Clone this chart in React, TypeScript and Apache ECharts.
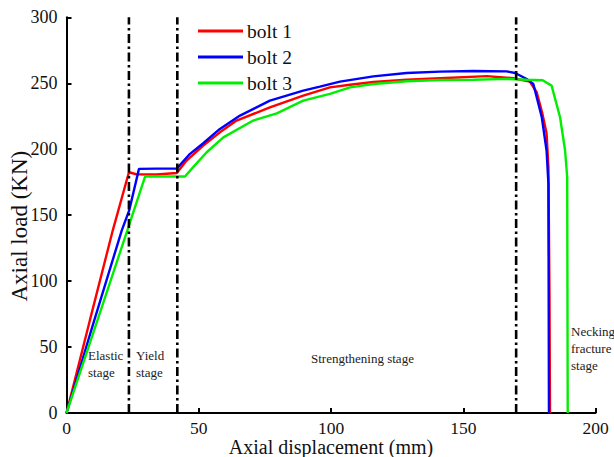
import React, { useEffect, useRef } from "react";
import * as echarts from "echarts";

const seriesNames = ["bolt 1", "bolt 2", "bolt 3"];
const seriesColors = ["#ff0000", "#0000ff", "#00ee00"];

const bolt1Disp = [0, 8.8, 17.5, 23.6, 26.4, 34, 41.7, 45.4, 51.7, 58, 64.3, 76.9, 89.5, 99.6, 107.2, 116, 128.6, 141.2, 158.9, 168.9, 175.2, 177.8, 179.8, 181.5, 182.2, 182.6, 182.8];
const bolt1Load = [0, 70, 138.5, 182.5, 181, 180.8, 182, 191.4, 202.8, 212.8, 221.7, 231.7, 240.6, 246.9, 248.9, 250.9, 252.7, 253.8, 255.4, 253.8, 251.2, 243, 228, 212, 186.4, 90, 0];

const bolt2Disp = [0, 10, 20.9, 23.7, 27.4, 34, 41.7, 46.7, 51.7, 58, 65.6, 76.9, 89.5, 95.8, 103.4, 116, 128.6, 141.2, 153.8, 166.4, 169.6, 174, 176.5, 179.7, 181.5, 182.2, 182.4];
const bolt2Load = [0, 67, 138.5, 153.6, 185.1, 185.3, 185.3, 196.5, 204.5, 215.4, 225.5, 236.8, 244.4, 247.4, 251.2, 255.2, 257.8, 258.8, 259.3, 259, 257.8, 253.2, 249.4, 224.2, 199, 173.8, 0];

const bolt3Disp = [0, 11.5, 23, 29.7, 37, 44.8, 47.9, 53, 59.3, 70.6, 79.5, 89.5, 99.6, 107.2, 116, 128.6, 141.2, 153.8, 166.4, 174, 180, 183.4, 186.6, 188.5, 189.3, 189.5];
const bolt3Load = [0, 69, 138.5, 179.3, 179.3, 179.3, 186.4, 197.7, 209, 221.7, 227.2, 236.8, 241.9, 246.9, 249.4, 251.5, 252.5, 252.7, 253.3, 252.7, 252.3, 248.2, 224.2, 199, 178.8, 0];

const stageBounds = [23.6, 41.9, 170];
const xTicks = { min: 0, max: 200, interval: 50 };
const yTicks = { min: 0, max: 300, interval: 50 };

const stageLabels = [
  { text: "Elastic\nstage", x: 88, y: 346.5 },
  { text: "Yield\nstage", x: 136, y: 346.5 },
  { text: "Strengthening stage", x: 311, y: 349.5 },
  { text: "Necking\nfracture\nstage", x: 571, y: 322.5 },
];

const FONT = "Liberation Serif";

const zip = (xs: number[], ys: number[]) => xs.map((x, i) => [x, ys[i]]);

export default function App() {
  const ref = useRef<HTMLDivElement>(null);
  useEffect(() => {
    if (!ref.current) return;
    const chart = echarts.init(ref.current, null, { renderer: "svg" });
    const curves = [zip(bolt1Disp, bolt1Load), zip(bolt2Disp, bolt2Load), zip(bolt3Disp, bolt3Load)];
    const series: any[] = curves.map((d, i) => ({
      name: seriesNames[i],
      type: "line",
      data: d,
      symbol: "none",
      showSymbol: false,
      color: seriesColors[i],
      lineStyle: { color: seriesColors[i], width: 2.4 },
      itemStyle: { color: seriesColors[i] },
      z: 3,
    }));
    stageBounds.forEach((b, i) => {
      series.push({
        name: "stage" + i,
        type: "line",
        data: [
          [b, yTicks.min],
          [b, yTicks.max],
        ],
        symbol: "none",
        showSymbol: false,
        lineStyle: { color: "#000", width: 2.6, type: [9, 3.5, 2.5, 3.5] },
        z: 4,
        silent: true,
      });
    });
    chart.setOption({
      animation: false,
      backgroundColor: "#fff",
      grid: { left: 66.5, right: 18.5, top: 17.3, bottom: 44, outerBoundsMode: "none" },
      legend: {
        data: seriesNames,
        orient: "vertical",
        left: 198,
        top: 21,
        padding: 0,
        icon: "rect",
        itemWidth: 45,
        itemHeight: 3,
        itemGap: 6,
        textStyle: { fontFamily: FONT, fontSize: 19.5, color: "#111", padding: [0, 0, 0, -1] },
      },
      xAxis: {
        type: "value",
        min: xTicks.min,
        max: xTicks.max,
        interval: xTicks.interval,
        name: "Axial displacement (mm)",
        nameLocation: "middle",
        nameGap: 24,
        nameMoveOverlap: false,
        nameTextStyle: { fontFamily: FONT, fontSize: 20, lineHeight: 20, color: "#111" },
        axisLine: { show: true, lineStyle: { color: "#000", width: 2 } },
        axisTick: { show: true, inside: true, length: 5, lineStyle: { color: "#000", width: 2 } },
        axisLabel: { fontFamily: FONT, fontSize: 17.5, lineHeight: 17, color: "#111", margin: 6 },
        splitLine: { show: false },
      },
      yAxis: {
        type: "value",
        min: yTicks.min,
        max: yTicks.max,
        interval: yTicks.interval,
        name: "Axial load (KN)",
        nameLocation: "middle",
        nameGap: 36,
        nameMoveOverlap: false,
        nameTextStyle: { fontFamily: FONT, fontSize: 23, color: "#111", padding: [0, 22, 0, 0] },
        axisLine: { show: true, lineStyle: { color: "#000", width: 2 } },
        axisTick: { show: true, inside: true, length: 5, lineStyle: { color: "#000", width: 2 } },
        axisLabel: { fontFamily: FONT, fontSize: 18, color: "#111", margin: 9 },
        splitLine: { show: false },
      },
      graphic: stageLabels.map((s) => ({
        type: "text",
        x: s.x,
        y: s.y,
        style: {
          text: s.text,
          font: `13px ${FONT}`,
          fill: "#222",
          lineHeight: 17,
          verticalAlign: "top",
          align: "left",
        },
      })),
      series,
    });
    return () => chart.dispose();
  }, []);
  return (
    <div
      ref={ref}
      style={{ position: "fixed", left: 0, top: 0, width: 614, height: 457, background: "#fff" }}
    />
  );
}
